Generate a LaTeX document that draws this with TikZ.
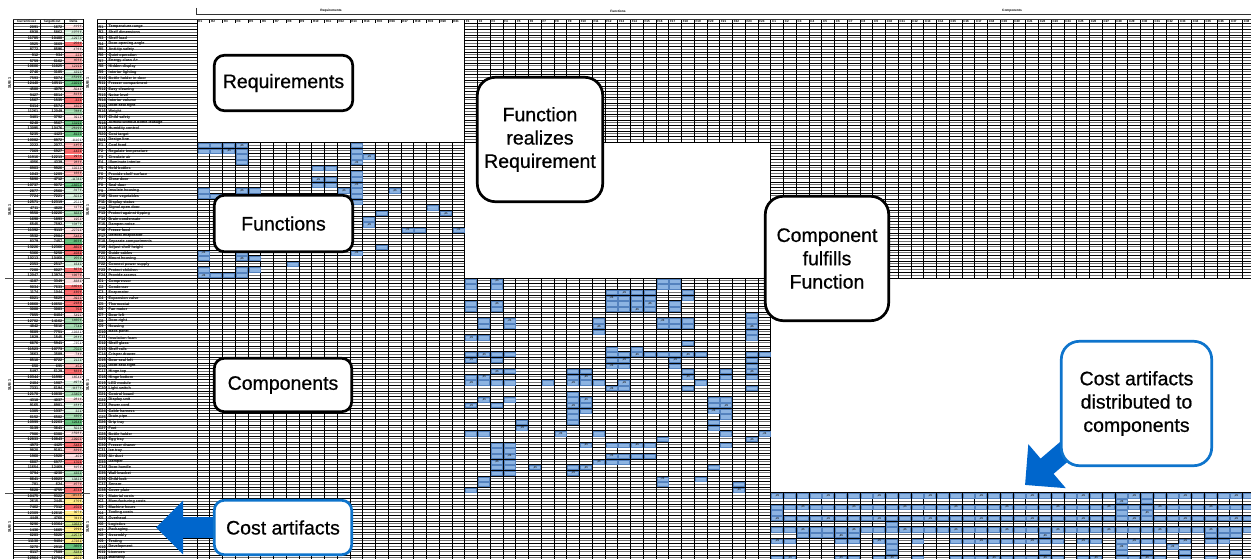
\documentclass[tikz,border=0pt]{standalone}
\usepackage{fontspec}
\setmainfont{Liberation Sans}
\newfontfamily\calloutface[FakeBold=0.7]{Liberation Sans}
\usetikzlibrary{arrows.meta,calc}

\pgfdeclarelayer{arrowlayer}
\pgfdeclarelayer{calloutlayer}
\pgfsetlayers{main,arrowlayer,calloutlayer}

\definecolor{cellblue}{RGB}{141,180,226}
\definecolor{celledge}{RGB}{84,130,190}
\definecolor{calloutblue}{RGB}{14,116,204}
\definecolor{arrowblue}{RGB}{0,102,204}
\definecolor{rulegray}{RGB}{115,115,115}
% delta colour scale
\definecolor{dA}{RGB}{248,105,107}
\definecolor{dB}{RGB}{251,170,172}
\definecolor{dC}{RGB}{252,222,224}
\definecolor{dW}{RGB}{255,255,255}
\definecolor{dD}{RGB}{210,236,216}
\definecolor{dE}{RGB}{160,214,172}
\definecolor{dF}{RGB}{99,190,123}
\definecolor{dY}{RGB}{255,235,132}
\definecolor{dO}{RGB}{250,170,110}
\definecolor{dG}{RGB}{198,222,128}

\newcommand\calloutfont{\calloutface\fontsize{19.5}{23.3}\selectfont}
\newcommand\tinyfont{\fontsize{3.8}{4}\selectfont\bfseries}
\newcommand\microfont{\fontsize{2.7}{3}\selectfont\bfseries}

% matrix geometry
\newcommand\colw{12.75}
\newcommand\rowh{5.65}
\newcommand\gridx{197}
\newcommand\gridy{24}

\tikzset{
  rowrule/.style={draw=black, line width=1pt},
  rowshade/.style={draw=rulegray, line width=0.7pt},
  colrule/.style={draw=black, line width=1pt},
  headrule/.style={draw=black!80, line width=0.8pt},
  sectrule/.style={draw=black!70, line width=0.9pt},
  cellfill/.style={fill=cellblue, draw=celledge, line width=0.35pt},
  celltext/.style={font=\microfont, text=black!85, inner sep=0pt},
  headlab/.style={font=\fontsize{3}{3}\selectfont\bfseries, inner sep=0pt, anchor=west},
  grouplab/.style={font=\fontsize{3.2}{3}\selectfont\bfseries, inner sep=0pt},
  idlab/.style={font=\tinyfont, inner sep=0pt, anchor=west},
  namelab/.style={font=\tinyfont, inner sep=0pt, anchor=west},
  numlab/.style={font=\tinyfont, inner sep=0pt, anchor=east},
  sublab/.style={font=\fontsize{3.8}{4}\selectfont\bfseries, inner sep=0pt, rotate=90},
  callout/.style={draw=black, line width=2.7pt, fill=white, rounded corners=#1,
    align=center, font=\calloutfont, inner sep=0pt},
  callout/.default=10pt,
  bluecallout/.style={callout=#1, draw=calloutblue},
  bluecallout/.default=10pt,
  bluearrow/.style={draw=arrowblue, line width=#1}
}

% one filled cell of the matrix: column, row
\newcommand\bluecell[2]{%
  \pgfmathtruncatemacro\cv{mod(#1*3+#2*7,4)}%
  \fill[cellfill] ({\gridx+\colw*#1+0.9},{\gridy+\rowh*#2+0.7})
    rectangle ({\gridx+\colw*(#1+1)-0.9},{\gridy+\rowh*(#2+1)-0.7});
  \node[celltext] (v-#2-#1) at ({\gridx+\colw*(#1+0.5)},{\gridy+\rowh*(#2+0.5)})
    {\ifcase\cv 0,25\or 0,50\or 0,33\or 1,00\fi};
}

\begin{document}
\begin{tikzpicture}[x=1pt,y=-1pt]
\useasboundingbox (0,0) rectangle (1251,559);
\fill[white] (0,0) rectangle (1251,559);
\clip (0,0) rectangle (1251,559);

% ---------- row rules ----------
\foreach \r in {0,...,95} {
  \pgfmathsetmacro\yy{\gridy+\rowh*\r}
  \draw[rowshade] (97,\yy+2.3) -- (1256,\yy+2.3);
  \draw[rowshade] (13,\yy+2.3) -- (83,\yy+2.3);
  \draw[rowrule] (97,\yy) -- (1256,\yy);
  \draw[rowrule] (13,\yy) -- (83,\yy);
}
% ---------- column rules ----------
\foreach \k in {0,...,83} {
  \pgfmathsetmacro\xx{\gridx+\colw*\k}
  \draw[colrule] (\xx,19.5) -- (\xx,562);
}
\foreach \xx in {13,40,64,83,97,106.5}
  \draw[colrule] (\xx,19.5) -- (\xx,562);
\draw[headrule] (13,19.5) -- (83,19.5);
\draw[headrule] (97,19.5) -- (1256,19.5);

% ---------- empty diagonal blocks ----------
\fill[white] (197.6,23.4) rectangle (464.2,142.1);
\fill[white] (465.3,143.2) rectangle (770.2,277.7);
\fill[white] (771.3,278.8) rectangle (1256,492.4);

% ---------- group header ----------
\draw[headrule] (196,8) -- (196,14) -- (1256,14);
\node[grouplab] (g-req) at (331,11) {Requirements};
\node[grouplab] (g-fun) at (618,11) {Functions};
\node[grouplab] (g-com) at (1012,11) {Components};

% ---------- column headers ----------
\foreach \k in {1,...,21}
  \node[headlab] (hr-\k) at ({\gridx+\colw*(\k-1)+1.2},21.8) {R\k};
\foreach \k in {1,...,24}
  \node[headlab] (hf-\k) at ({\gridx+\colw*(\k+20)+1.2},21.8) {F\k};
\foreach \k in {1,...,38}
  \node[headlab] (hc-\k) at ({\gridx+\colw*(\k+44)+1.2},21.8) {C\k};

% ---------- cost table on the left ----------
\node[font=\fontsize{3.2}{3}\selectfont\bfseries, inner sep=0pt] (h-cur) at (26.5,21.8) {CurrentCost};
\node[font=\fontsize{3.2}{3}\selectfont\bfseries, inner sep=0pt] (h-tgt) at (52,21.8) {TargetCost};
\node[font=\fontsize{3.2}{3}\selectfont\bfseries, inner sep=0pt] (h-dlt) at (73.5,21.8) {Delta};

\foreach \dc [count=\i from 0] in {
  dC,dD,dD,dA,dC,dB,dB,dB,dD,dE,dF,dC,dB,dA,dB,dE,dC,dF,dE,dF,dW,
  dB,dA,dA,dB,dC,dB,dD,dF,dD,dD,dW,dC,dE,dC,dD,dC,dB,dF,dA,dA,dE,dD,dA,dB,
  dC,dA,dA,dB,dA,dA,dC,dE,dE,dW,dD,dW,dE,dC,dD,dB,dA,dC,dD,dD,
  dE,dC,dD,dD,dE,dF,dD,dC,dB,dA,dB,dC,dA,dC,dE,dD,dB,dA,
  dO,dY,dA,dY,dY,dG,dY,dG,dY,dF,dG,dY} {
  \pgfmathsetmacro\yy{\gridy+\rowh*\i}
  \pgfmathtruncatemacro\cur{mod(\i*37+11,97)*131+650}
  \pgfmathtruncatemacro\tgt{\cur*(0.8+0.045*mod(\i,9))}
  \pgfmathtruncatemacro\dl{\tgt-\cur}
  \fill[\dc] (64.6,\yy+0.6) rectangle (82.4,\yy+\rowh-0.4);
  \node[numlab] (cur-\i) at (38.5,\yy+2.9) {\cur};
  \node[numlab] (tgt-\i) at (62.5,\yy+2.9) {\tgt};
  \node[numlab, font=\fontsize{3.2}{3}\selectfont] (dlt-\i) at (81.8,\yy+2.9) {\dl\,€};
}
\draw[sectrule] (5,278.25) -- (90,278.25);
\draw[sectrule] (5,492.95) -- (90,492.95);
\foreach \yy/\nm in {83/a,210/b,385/c,527/d} {
  \node[sublab] (sub-l-\nm) at (9.5,\yy) {SUB 1};
  \node[sublab] (sub-r-\nm) at (87.5,\yy) {SUB 1};
}

% ---------- row labels ----------
\foreach \nm [count=\i] in {Temperature range, Shelf dimensions, Shelf load,
  Door opening angle, Anti-tip safety, Quiet operation, Energy class A+,
  Hidden display, Interior lighting, Bottle holder in door, Freezer compartment,
  Easy cleaning, Noise level, Interior volume, Door seal tight, Weight,
  Child safety, Airflow without bottle leakage, Humidity control, Cost target,
  Design line} {
  \pgfmathsetmacro\yy{\gridy+\rowh*(\i-1)+2.9}
  \node[idlab] (id-r\i) at (98.5,\yy) {R\i};
  \node[namelab] (nm-r\i) at (108.5,\yy) {\nm};
}
\foreach \nm [count=\i] in {Cool food, Regulate temperature, Circulate air,
  Illuminate interior, Hold bottles, Provide shelf surface, Close door, Seal door,
  Insulate housing, Store vegetables, Display status, Signal open door,
  Protect against tipping, Drain condensate, Dampen noise, Freeze food,
  Defrost evaporator, Separate compartments, Adjust shelf height, Guide cables,
  Mount housing, Connect power supply, Protect children, Provide access} {
  \pgfmathsetmacro\yy{\gridy+\rowh*(\i+20)+2.9}
  \node[idlab] (id-f\i) at (98.5,\yy) {F\i};
  \node[namelab] (nm-f\i) at (108.5,\yy) {\nm};
}
\foreach \nm [count=\i] in {Compressor, Condenser, Evaporator, Expansion valve,
  Thermostat, Fan motor, Door left, Door right, Housing, Back panel,
  Insulation foam, Shelf glass, Shelf rails, Crisper drawer, Door seal left,
  Door seal right, Hinge top, Hinge bottom, LED module, Light switch,
  Control board, Display unit, Power cord, Cable harness, Drain pipe, Drip tray,
  Feet, Bottle holder, Egg tray, Freezer drawer, Ice tray, Air duct, Damper,
  Door handle, Wall bracket, Child lock, Sensor, Cover plate} {
  \pgfmathsetmacro\yy{\gridy+\rowh*(\i+44)+2.9}
  \node[idlab] (id-c\i) at (98.5,\yy) {C\i};
  \node[namelab] (nm-c\i) at (108.5,\yy) {\nm};
}
\foreach \nm [count=\i] in {Material costs, Manufacturing costs, Machine hours,
  Tooling costs, Overhead, Logistics, Packaging, Assembly, Testing, Development,
  Licences, Warranty} {
  \pgfmathsetmacro\yy{\gridy+\rowh*(\i+82)+2.9}
  \node[idlab] (id-k\i) at (98.5,\yy) {K\i};
  \node[namelab] (nm-k\i) at (108.5,\yy) {\nm};
}

% ---------- functions x requirements ----------
\foreach \r/\cl in {21/{0,1,2,3,12}, 22/{0,1,2,3,12}, 23/{3,12,13}, 24/{3,12},
  25/{9,10}, 26/{12}, 27/{9,10,12}, 28/{9,10,12}, 29/{0,3,4,11,12,15},
  30/{0,1,12}, 31/{12}, 32/{18}, 33/{14,19}, 34/{13}, 35/{13}, 36/{16,17,20},
  39/{14}, 40/{0,3,12}, 41/{0,3,4}, 42/{7}, 43/{0,3,4}, 44/{0,1,2,3}} {
  \foreach \c in \cl {\bluecell{\c}{\r}}
}

% ---------- components x functions ----------
\foreach \r/\cl in {45/{0,2,15,16}, 46/{0,2,15,16}, 47/{11,12,13,14,17},
  48/{11,12,13,14,17}, 49/{0,2,11,12,13,14,16}, 50/{0,2,11,12,13,14,16},
  51/{22}, 52/{1,3,10,15,16,17,22}, 53/{1,3,10,15,16,17,22}, 54/{10,22},
  55/{0,1,22}, 56/{17}, 57/{11,13}, 58/{0,1,2,3,11,12,13,14,15,16,17,18,22,23},
  59/{0,2,11,12,16,22}, 60/{11,12,16,22}, 61/{2,3,8,9,17,20,22},
  62/{0,1,8,9,17,20,22}, 63/{0,1,2,3,6,8,9,10,12,18}, 64/{11,12,17,22},
  65/{8}, 66/{1,3,8,9,19,20}, 67/{0,2,8,9,19,20}, 68/{8,9,19,20}, 69/{8,20},
  70/{4,8,19}, 71/{4,19}, 72/{0,1,7,10,20,23}, 73/{15,22},
  74/{2,3,9,11,12,13,14,20}, 75/{2,3}, 76/{2,3,11,12,13,14}, 77/{2,3,10,11,12},
  78/{2,3,5,8,9,19}, 79/{2,3,8}, 80/{1,15,18}, 81/{1,15,21}, 82/{0,21}} {
  \foreach \f in \cl {\pgfmathtruncatemacro\gc{\f+21}\bluecell{\gc}{\r}}
}

% ---------- cost artifacts x components ----------
\foreach \r/\cl in {83/{0,...,37}, 84/{27,29}, 85/{0,...,37}, 86/{0,27,29},
  87/{0,...,37}, 88/{9}, 89/{0,...,37}, 90/{2,3,4,5,6,21,34,35,36},
  91/{0,1,5,6,8,9,11,14,15,16,17,18,19,20,21,22,24,25,27,28,29,30,32,34,35},
  92/{9,27,31}, 93/{9,21,27,29,32,36},
  94/{0,1,5,6,8,9,11,14,15,16,17,18,19,20,21,22,24,25,27,28,29,30,32,34}} {
  \foreach \f in \cl {\pgfmathtruncatemacro\gc{\f+45}\bluecell{\gc}{\r}}
}

% ---------- callouts ----------
\begin{pgfonlayer}{calloutlayer}
  \node[callout] (req) at (283.5,83) [minimum width=138.4pt, minimum height=55.4pt] {Requirements};
  \node[callout=18pt] (frr) at (540,139.5) [minimum width=125.4pt, minimum height=124.4pt] {Function\\realizes\\Requirement};
  \node[callout] (fun) at (283.5,223.5) [minimum width=138.4pt, minimum height=56.4pt] {Functions};
  \node[callout=18pt] (cff) at (827,258.5) [minimum width=123.4pt, minimum height=124.4pt] {Component\\fulfills\\Function};
  \node[callout] (com) at (283,385) [minimum width=137.4pt, minimum height=53.4pt] {Components};
  \node[bluecallout] (cost) at (283,527.5) [minimum width=137.4pt, minimum height=54.4pt] {Cost artifacts};
  \node[bluecallout=18pt] (dist) at (1136.5,403.5) [minimum width=150.4pt, minimum height=124.4pt] {Cost artifacts\\distributed to\\components};
\end{pgfonlayer}

% ---------- pointer arrows ----------
\coordinate (cost-tip) at (156,527.5);
\coordinate (dist-tail) at ($(dist.south west)+(26,-34)$);
\coordinate (dist-tip) at (1025,485);
\begin{pgfonlayer}{arrowlayer}
  \draw[bluearrow=21pt, -{Triangle[length=27pt,width=52pt]}] (cost.center) -- (cost-tip);
  \draw[bluearrow=20pt, -{Triangle[length=29pt,width=56pt]}] (dist-tail) -- (dist-tip);
\end{pgfonlayer}
\end{tikzpicture}
\end{document}
